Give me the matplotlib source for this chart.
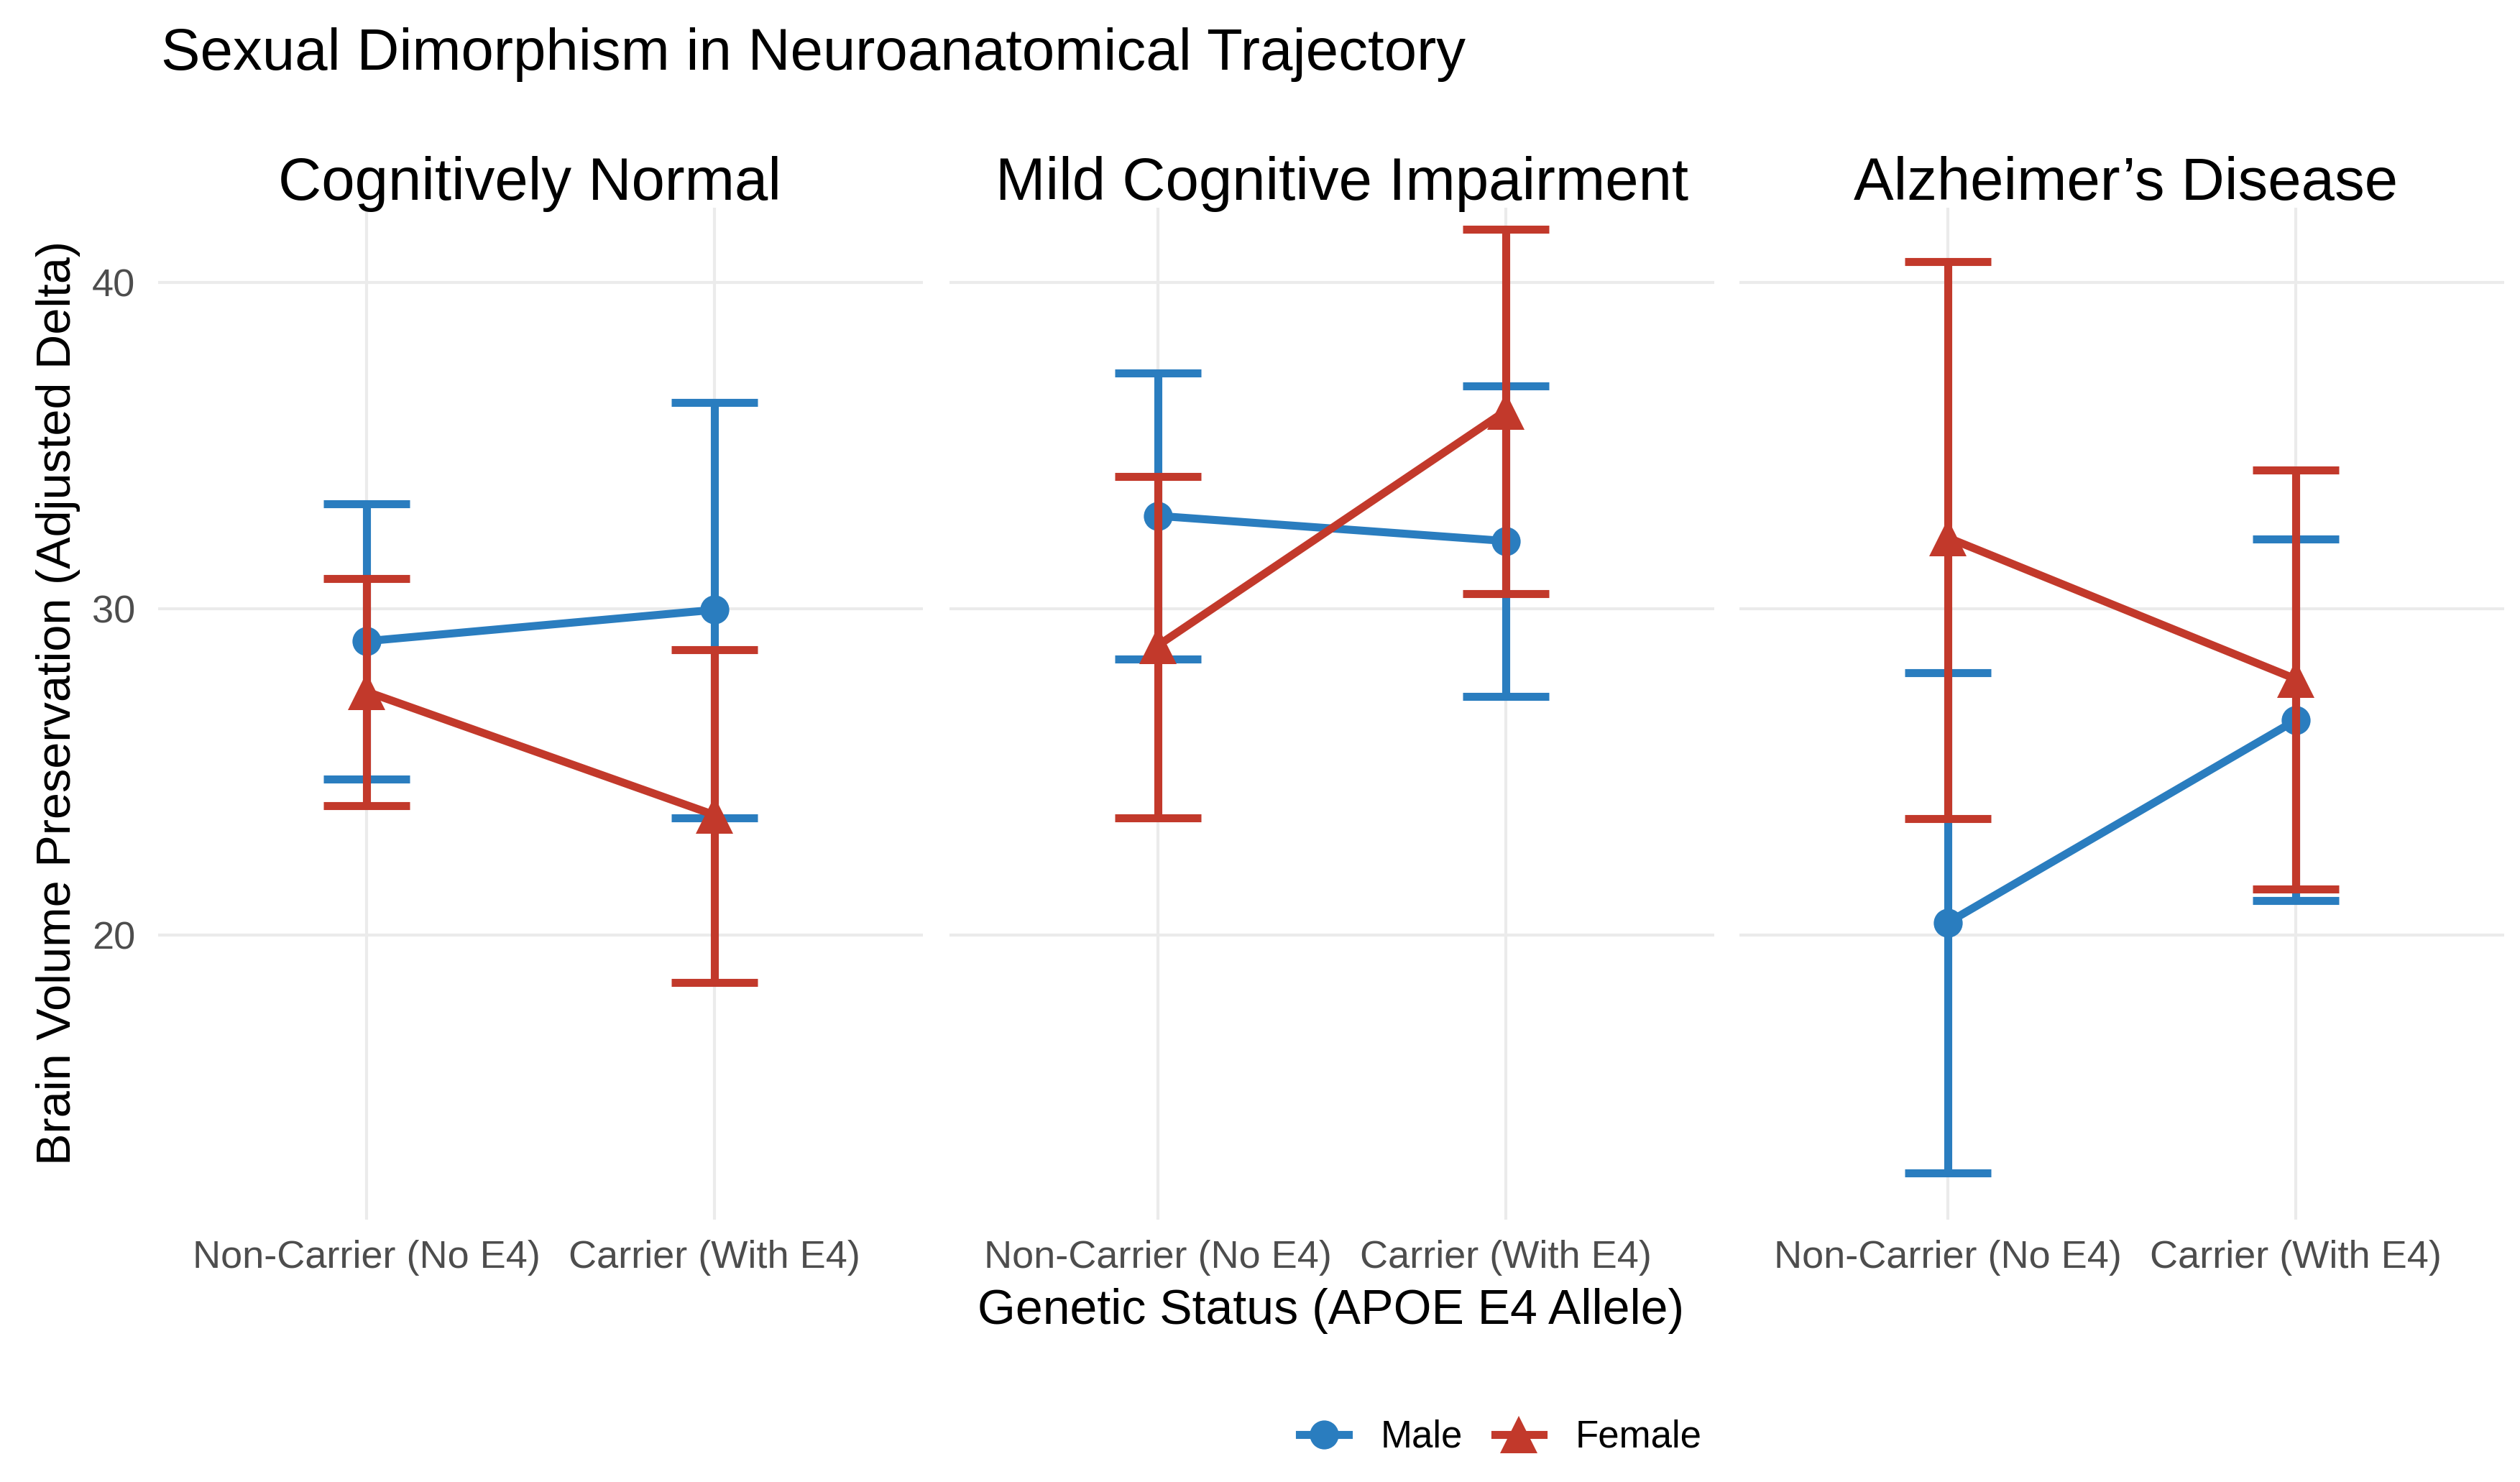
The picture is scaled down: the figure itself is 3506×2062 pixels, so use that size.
import numpy as np
import matplotlib.pyplot as plt
from matplotlib.lines import Line2D

plt.rcParams['font.family'] = ['Liberation Sans', 'DejaVu Sans']

# facets, x categories
conditions = ['Cognitively Normal', 'Mild Cognitive Impairment', 'Alzheimer\u2019s Disease']
status = ['Non-Carrier (No E4)', 'Carrier (With E4)']

# one row per facet: [non-carrier, carrier]
male_mean = [[29.01, 29.97], [32.85, 32.08], [20.38, 26.58]]
male_low = [[24.79, 23.60], [28.45, 27.31], [12.70, 21.05]]
male_high = [[33.23, 36.33], [37.23, 36.84], [28.05, 32.15]]

female_mean = [[27.46, 23.68], [28.88, 36.07], [32.18, 27.85]]
female_low = [[23.96, 18.54], [23.59, 30.47], [23.57, 21.40]]
female_high = [[30.92, 28.75], [34.06, 41.64], [40.65, 34.26]]

blue = '#2a7dbf'
red = '#c2392b'

W, H = 3506, 2062
fig = plt.figure(figsize=(W / 100, H / 100), dpi=100)
fig.patch.set_facecolor('white')

# panel placement in pixels (left, width)
panel_left = [220, 1321, 2420]
panel_w = 1064
bottom_px, top_px = 1697, 289
strip_x = [737, 1867, 2958]

x = np.arange(1, len(status) + 1)

def draw_group(ax, mean, low, high, color, marker, ms):
    mean = np.array(mean)
    err = [mean - np.array(low), np.array(high) - mean]
    ax.errorbar(x, mean, yerr=err, fmt='none', ecolor=color, elinewidth=8,
                capsize=43, capthick=8, zorder=3)
    ax.plot(x, mean, color=color, lw=8, zorder=3,
            marker=marker, markersize=ms, markeredgewidth=0,
            solid_capstyle='butt')

for i, cond in enumerate(conditions):
    ax = fig.add_axes([panel_left[i] / W, 1 - bottom_px / H,
                       panel_w / W, (bottom_px - top_px) / H])
    ax.set_xlim(0.4, 2.6)
    ax.set_ylim(11.27, 42.3)
    ax.set_yticks([20, 30, 40])
    ax.set_xticks(x)
    ax.set_xticklabels(status)
    for s in ax.spines.values():
        s.set_visible(False)
    ax.grid(True, color='#ebebeb', lw=3)
    ax.set_axisbelow(True)
    ax.tick_params(length=0, labelsize=39, labelcolor='#4d4d4d')
    ax.tick_params(axis='x', pad=20)
    ax.tick_params(axis='y', pad=23)
    if i > 0:
        ax.tick_params(axis='y', labelleft=False)

    draw_group(ax, male_mean[i], male_low[i], male_high[i], blue, 'o', 29)
    draw_group(ax, female_mean[i], female_low[i], female_high[i], red, '^', 37)

    fig.text(strip_x[i] / W, 1 - 278 / H, cond,
             ha='center', va='baseline', fontsize=60)

fig.text(224 / W, 1 - 97 / H, 'Sexual Dimorphism in Neuroanatomical Trajectory',
         ha='left', va='baseline', fontsize=58.8)
fig.text(1852 / W, 1 - 1842 / H, 'Genetic Status (APOE E4 Allele)',
         ha='center', va='baseline', fontsize=49)
fig.text(81 / W, 1 - 978 / H, 'Brain Volume Preservation (Adjusted Delta)',
         ha='center', va='center', rotation=90, fontsize=48)

handles = [Line2D([], [], color=blue, lw=8, marker='o', markersize=29, markeredgewidth=0),
           Line2D([], [], color=red, lw=8, marker='^', markersize=37, markeredgewidth=0)]
fig.legend(handles, ['Male', 'Female'], loc='center', bbox_to_anchor=(2088 / W, 1 - 2000 / H),
           ncol=2, frameon=False, fontsize=38, handlelength=1.27, handletextpad=0.85,
           columnspacing=0.85)

fig.savefig('out.png', dpi=100, facecolor='white')
